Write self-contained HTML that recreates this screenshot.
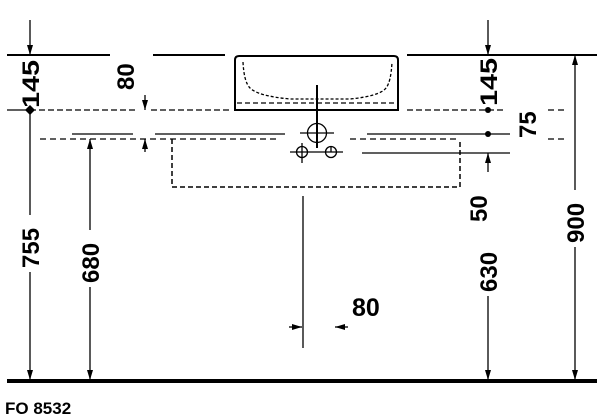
<!DOCTYPE html>
<html><head><meta charset="utf-8"><style>
html,body{margin:0;padding:0;background:#fff;width:600px;height:418px;overflow:hidden}
svg{display:block}
text{font-family:"Liberation Sans",sans-serif;font-weight:bold;fill:#000}
</style></head><body>
<svg width="600" height="418" viewBox="0 0 600 418" xmlns="http://www.w3.org/2000/svg">
<g stroke="#000" fill="none" stroke-width="1.3">
<line x1="7" y1="55" x2="110" y2="55" stroke-width="2"/>
<line x1="153" y1="55" x2="225" y2="55" stroke-width="2"/>
<line x1="407" y1="55" x2="597" y2="55" stroke-width="2"/>
<path d="M235 110 V60 Q235 56 239 56 H394 Q398 56 398 60 V110 Z" stroke-width="2"/>
<path d="M243 62 Q244 82 250 88 Q258 96 290 99 H350 Q380 96 386 88 Q391 82 392 62" stroke-dasharray="3,2"/>
<line x1="237" y1="103" x2="396" y2="103" stroke-dasharray="5,3"/>
<line x1="7" y1="110" x2="30" y2="110"/>
<line x1="30" y1="110" x2="135" y2="110" stroke-dasharray="6,3"/>
<line x1="151" y1="110" x2="229" y2="110" stroke-dasharray="6,3"/>
<line x1="407" y1="110" x2="505" y2="110" stroke-dasharray="6,3"/>
<line x1="548" y1="110" x2="565" y2="110" stroke-dasharray="6,4"/>
<line x1="72" y1="134" x2="133" y2="134"/>
<line x1="155" y1="134" x2="285" y2="134"/>
<line x1="367" y1="134" x2="510" y2="134"/>
<line x1="40" y1="139" x2="280" y2="139" stroke-dasharray="6,4"/>
<line x1="350" y1="139" x2="460" y2="139" stroke-dasharray="6,4"/>
<line x1="548" y1="139" x2="565" y2="139" stroke-dasharray="6,4"/>
<line x1="362" y1="153" x2="510" y2="153"/>
<path d="M172 139 V187 H460 V139" stroke-dasharray="5,3" stroke-width="1.5"/>
<line x1="317" y1="85" x2="317" y2="148" stroke-width="2"/>
<circle cx="317" cy="133" r="9.5"/>
<line x1="300" y1="133" x2="334" y2="133"/>
<circle cx="302" cy="152" r="5.5"/>
<circle cx="331" cy="152" r="5.5"/>
<line x1="290" y1="152" x2="343" y2="152"/>
<line x1="302" y1="143" x2="302" y2="163"/>
<line x1="331" y1="146" x2="331" y2="152"/>
<line x1="303" y1="196" x2="303" y2="348"/>
<line x1="289" y1="327" x2="302" y2="327"/>
<line x1="335" y1="327" x2="348" y2="327"/>
<line x1="30" y1="20" x2="30" y2="55"/>
<line x1="30" y1="110" x2="30" y2="215"/>
<line x1="30" y1="272" x2="30" y2="380"/>
<line x1="90" y1="139" x2="90" y2="230"/>
<line x1="90" y1="287" x2="90" y2="380"/>
<line x1="145" y1="95" x2="145" y2="110"/>
<line x1="145" y1="139" x2="145" y2="152"/>
<line x1="488" y1="20" x2="488" y2="55"/>
<line x1="488" y1="153" x2="488" y2="172"/>
<line x1="488" y1="296" x2="488" y2="380"/>
<line x1="575" y1="55" x2="575" y2="190"/>
<line x1="575" y1="247" x2="575" y2="380"/>
<line x1="7" y1="381" x2="597" y2="381" stroke-width="4"/>
</g>
<g fill="#000">
<polygon points="27,45 33,45 30,55"/>
<polygon points="485,45 491,45 488,55"/>
<polygon points="142,100 148,100 145,110"/>
<polygon points="87,149 93,149 90,139"/>
<polygon points="142,149 148,149 145,139"/>
<polygon points="485,163 491,163 488,153"/>
<polygon points="572,65 578,65 575,55"/>
<polygon points="27,370 33,370 30,380"/>
<polygon points="87,370 93,370 90,380"/>
<polygon points="485,370 491,370 488,380"/>
<polygon points="572,370 578,370 575,380"/>
<polygon points="292,324 292,330 302,327"/>
<polygon points="345,324 345,330 335,327"/>
<polygon points="30,105 35,110 30,115 25,110"/>
<circle cx="488" cy="110" r="3"/>
<circle cx="488" cy="134" r="3"/>
</g>
<g font-size="24">
<text transform="translate(39,108) rotate(-90)" textLength="48" lengthAdjust="spacingAndGlyphs">145</text>
<text transform="translate(134,90) rotate(-90)">80</text>
<text transform="translate(497,106) rotate(-90)" textLength="48" lengthAdjust="spacingAndGlyphs">145</text>
<text transform="translate(536,138) rotate(-90)">75</text>
<text transform="translate(39,268) rotate(-90)">755</text>
<text transform="translate(99,283) rotate(-90)">680</text>
<text transform="translate(487,222) rotate(-90)">50</text>
<text transform="translate(497,292) rotate(-90)">630</text>
<text transform="translate(584,243) rotate(-90)">900</text>
<text x="352" y="316" font-size="25">80</text>
</g>
<text x="5" y="414" font-size="17">FO 8532</text>
</svg>
</body></html>
